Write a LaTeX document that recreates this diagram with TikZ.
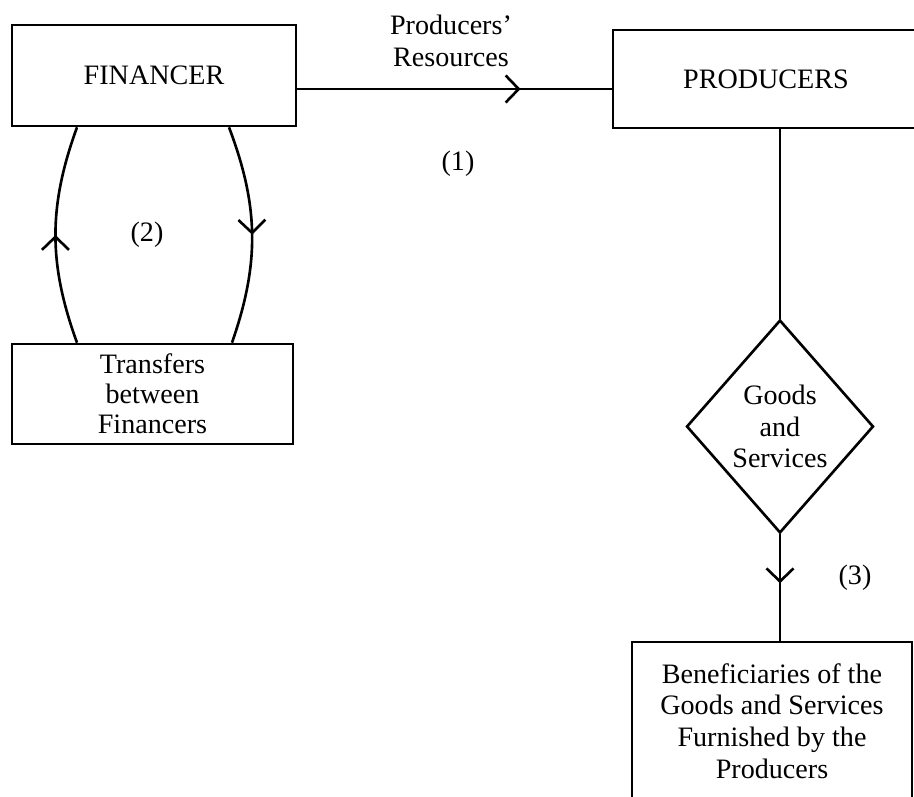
\documentclass[tikz,border=0pt]{standalone}
\usepackage{fontspec}
\setmainfont{Liberation Serif}
\usetikzlibrary{shapes.geometric,decorations.markings,arrows.meta}
\tikzset{
  box/.style={draw,line width=1.5pt,inner sep=0pt,align=center},
  flow/.style={line width=1.5pt,postaction={decorate},
    decoration={markings,mark=at position #1 with {\arrow{Straight Barb[length=2.6mm,width=5.4mm]}}}},
}
\begin{document}
\begin{tikzpicture}[x=0.02cm,y=-0.02cm,font=\fontsize{16}{18}\selectfont]
\useasboundingbox (0,0) rectangle (914,797);

\node[box,minimum width=5.68cm,minimum height=2.02cm] (fin) at (154,75.5) {FINANCER};
\node[box,minimum width=6.12cm,minimum height=1.96cm] (prod) at (766,79) {PRODUCERS};
\node[box,minimum width=5.62cm,minimum height=2.0cm,font=\fontsize{16}{17}\selectfont] (trans) at (152.5,394) {Transfers\\between\\Financers};
\node[box,diamond,minimum width=3.74cm,minimum height=4.26cm] (goods) at (780,426.5) {Goods\\and\\Services};
\node[box,minimum width=5.6cm,minimum height=3.16cm] (benef) at (772,721) {Beneficiaries of the\\Goods and Services\\Furnished by the\\Producers};

\node[align=center] (res) at (451,41) {Producers'\\Resources};
\node (one) at (458,164) {(1)};
\node (two) at (147,235) {(2)};
\node (three) at (855,578) {(3)};

\coordinate (y1) at (0,89);
\coordinate (la) at (77,0);
\coordinate (ra) at (229,0);
\coordinate (rb) at (232,0);

\draw[flow=0.71] (fin.east |- y1) -- (prod.west |- y1);
\draw[flow=0.5] (la |- trans.north) to[bend left=20] (la |- fin.south);
\draw[flow=0.5] (ra |- fin.south) to[bend left=20] (rb |- trans.north);
\draw[line width=1.5pt] (prod.south -| goods.north) -- (goods.north);
\draw[flow=0.46] (goods.south) -- (goods.south |- benef.north);
\end{tikzpicture}
\end{document}
